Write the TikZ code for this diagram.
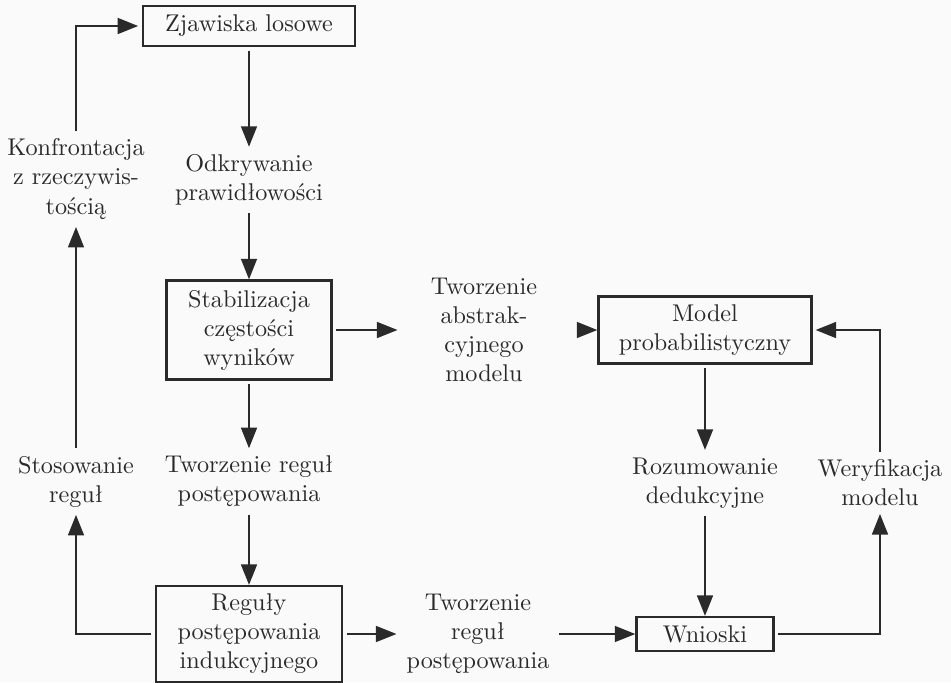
\documentclass[tikz,border=0pt]{standalone}
\usepackage{fontspec}
\usetikzlibrary{arrows.meta}
\definecolor{ink}{HTML}{2A2A2A}
\begin{document}
\begin{tikzpicture}[x=0.413pt,y=-0.413pt,
  every node/.style={text=ink, font=\fontsize{10pt}{12pt}\selectfont},
  boxnode/.style={draw=ink, line width=0.9pt, align=center, inner sep=0pt},
  txt/.style={align=center, inner sep=3pt},
  conn/.style={draw=ink, line width=1pt, -{Triangle[length=8.5pt,width=6.5pt]}},
  fromBox/.style={shorten <=1.5pt},
]
\fill[white!98!black] (0,0) rectangle (951,682);
\useasboundingbox (0,0) rectangle (951,682);

\node[boxnode, minimum width=87.6pt, minimum height=16.5pt] (zjaw) at (249,26) {Zjawiska losowe};
\node[txt] (odk) at (249,180) {Odkrywanie\\prawidłowości};
\node[boxnode, minimum width=68.1pt, minimum height=40.9pt] (stab) at (249,330) {Stabilizacja\\częstości\\wyników};
\node[txt] (trm) at (249,481.5) {Tworzenie reguł\\postępowania};
\node[boxnode, minimum width=76.8pt, minimum height=39.6pt] (reg) at (249,634) {Reguły\\postępowania\\indukcyjnego};
\node[txt, minimum width=71pt] (abs) at (484,330) {Tworzenie\\abstrak-\\cyjnego\\modelu};
\node[boxnode, minimum width=88pt, minimum height=27.7pt] (model) at (705,330) {Model\\probabilistyczny};
\node[txt] (roz) at (705,483) {Rozumowanie\\dedukcyjne};
\node[boxnode, minimum width=56.6pt, minimum height=14pt] (wn) at (705,634) {Wnioski};
\node[txt] (wer) at (880,483) {Weryfikacja\\modelu};
\node[txt, minimum width=66.9pt] (trb) at (478,634) {Tworzenie\\reguł\\postępowania};
\node[txt] (konf) at (76,179) {Konfrontacja\\z rzeczywis-\\tością};
\node[txt] (stos) at (76,481.5) {Stosowanie\\reguł};

\draw[conn, fromBox] (zjaw) -- (odk);
\draw[conn] (odk) -- (stab);
\draw[conn, fromBox] (stab) -- (trm);
\draw[conn] (trm) -- (reg);
\draw[conn, fromBox] (stab) -- (abs);
\draw[conn, shorten <=6.6pt] (abs) -- (model);
\draw[conn, fromBox] (model) -- (roz);
\draw[conn] (roz) -- (wn);
\draw[conn, fromBox] (reg) -- (trb);
\draw[conn] (trb) -- (wn);
\draw[conn, fromBox] (wn.east) -| (wer.south);
\draw[conn, shorten >=1.2pt] (wer.north) |- (model.east);
\draw[conn, fromBox] (reg.west) -| (stos.south);
\draw[conn] (stos.north) -- (konf.south);
\draw[conn, shorten >=1.5pt] (konf.north) |- (zjaw.west);
\end{tikzpicture}
\end{document}
